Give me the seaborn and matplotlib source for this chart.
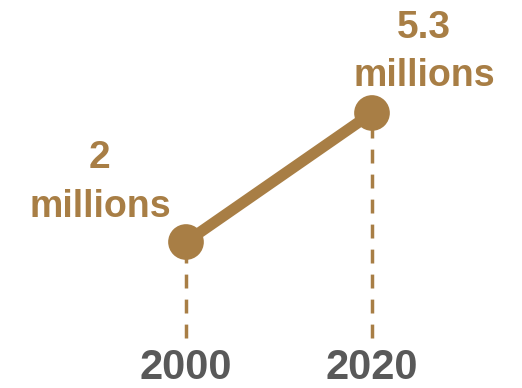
import numpy as np
import pandas as pd
import seaborn as sns
from matplotlib import pyplot as plt
from matplotlib import transforms

# Values
years = [2000, 2020]
values = [2, 5.3]
value_labels = ["2", "5.3"]
unit_label = "millions"
year_labels = ["2000", "2020"]

gold = "#A87E45"
grey = "#595959"

sns.set_theme(style="white")
plt.rcParams['font.family'] = ['Liberation Sans', 'DejaVu Sans']

df = pd.DataFrame({"year": years, "value": values})

fig = plt.figure(figsize=(5.22, 3.88), dpi=100)
ax = fig.add_axes([0, 0, 1, 1])

# Dashed drop lines from each point to the baseline
ax.vlines(df["year"], -0.45, df["value"], colors=gold, linewidth=2.5,
          linestyles=(0, (4, 3.2)), zorder=1)

sns.lineplot(data=df, x="year", y="value", ax=ax, color=gold, linewidth=8,
             solid_capstyle="butt", zorder=2)
sns.scatterplot(data=df, x="year", y="value", ax=ax, color=gold, s=660,
                edgecolor="none", zorder=3)

# Value labels (number above, unit below), offsets in points
num_off = [(-62.6, 53.3), (37, 54)]
unit_off = [(-62, 18), (38, 19.4)]
for x, y, lab, o1, o2 in zip(years, values, value_labels, num_off, unit_off):
    ax.annotate(lab, (x, y), xytext=o1, textcoords="offset points",
                ha="center", va="baseline", fontsize=28, fontweight="bold",
                color=gold)
    ax.annotate(unit_label, (x, y), xytext=o2, textcoords="offset points",
                ha="center", va="baseline", fontsize=27, fontweight="bold",
                color=gold)

# Year labels along the bottom (kept just inside the lower edge)
trans = transforms.blended_transform_factory(ax.transData, ax.transAxes)
for x, lab in zip(years, year_labels):
    ax.text(x, 0.0235, lab, transform=trans, ha="center", va="baseline",
            fontsize=30, fontweight="bold", color=grey)

ax.set_xlim(1980, 2036.13)
ax.set_ylim(-1.734, 8.19)
ax.axis("off")

plt.savefig("out.png", dpi=100)
